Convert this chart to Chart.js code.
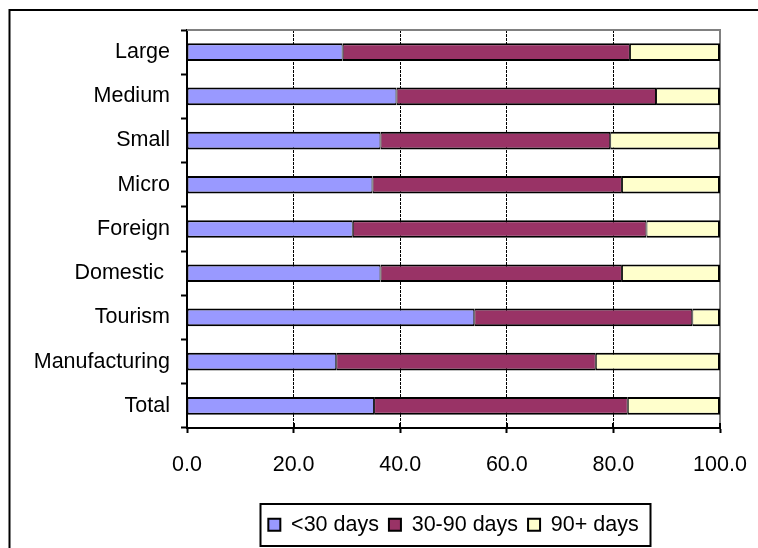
<!DOCTYPE html>
<html>
<head>
<meta charset="utf-8">
<title>Payment periods by firm type</title>
<script src="https://cdn.jsdelivr.net/npm/chart.js@4/dist/chart.umd.min.js"></script>
<style>
  html, body { margin: 0; padding: 0; background: #fff; }
  canvas { display: block; }
</style>
</head>
<body>
<canvas id="chart" width="758" height="548"></canvas>
<script>
// Share of payments (%) by payment period, per firm group (top to bottom)
const categories = ['Large', 'Medium', 'Small', 'Micro', 'Foreign', 'Domestic ', 'Tourism', 'Manufacturing', 'Total'];
const under30 = [29.2, 39.3, 36.3, 34.8, 31.1, 36.3, 53.9, 28.0, 35.1];
const days30to90 = [53.9, 48.7, 43.1, 46.8, 55.1, 45.3, 40.9, 48.7, 47.6];
const over90 = [16.9, 12.0, 20.6, 18.4, 13.8, 18.4, 5.2, 23.3, 17.3];
const seriesNames = ['<30 days', '30-90 days', '90+ days'];
const xTicks = [0, 20, 40, 60, 80, 100];

const FONT = { family: '"Liberation Sans", Arial, sans-serif', size: 21.5 };
Chart.defaults.font.family = FONT.family;
Chart.defaults.font.size = FONT.size;
Chart.defaults.color = '#000';

// Page frame, grey plot edges, inner halves of the value-axis tick marks, legend border
const framePlugin = {
  id: 'framePlugin',
  beforeDraw(chart) {
    const { ctx, width, height } = chart;
    ctx.save();
    ctx.fillStyle = '#fff';
    ctx.fillRect(0, 0, width, height);
    ctx.strokeStyle = '#000';
    ctx.lineWidth = 2;
    ctx.strokeRect(9.5, 10, width + 40, height + 40);
    ctx.restore();
  },
  beforeDatasetsDraw(chart) {
    const { ctx, chartArea: a } = chart;
    ctx.save();
    ctx.strokeStyle = '#808080';
    ctx.lineWidth = 2;
    ctx.beginPath();
    ctx.moveTo(a.left, a.top);
    ctx.lineTo(a.right, a.top);
    ctx.lineTo(a.right, a.bottom);
    ctx.stroke();
    ctx.restore();
  },
  afterDraw(chart) {
    const { ctx, chartArea: a, scales: { x } } = chart;
    ctx.save();
    ctx.strokeStyle = '#000';
    ctx.lineWidth = 2;
    x.ticks.forEach(t => {
      const px = Math.round(x.getPixelForValue(t.value));
      ctx.beginPath();
      ctx.moveTo(px, a.bottom);
      ctx.lineTo(px, a.bottom - 5);
      ctx.stroke();
    });
    const boxes = chart.legend.legendHitBoxes;
    if (boxes && boxes.length) {
      const left = Math.min(...boxes.map(b => b.left)) - 8;
      const right = Math.max(...boxes.map(b => b.left + b.width)) + 12;
      const cy = boxes[0].top + boxes[0].height / 2;
      ctx.strokeRect(Math.round(left) + 0.5, Math.round(cy - 21), Math.round(right - left), 42);
    }
    ctx.restore();
  }
};

const barBorder = { top: 2, bottom: 2, left: 1, right: 1 };

new Chart(document.getElementById('chart'), {
  type: 'bar',
  data: {
    labels: categories,
    datasets: [
      { label: seriesNames[0], data: under30, backgroundColor: '#9999FF' },
      { label: seriesNames[1], data: days30to90, backgroundColor: '#993366' },
      { label: seriesNames[2], data: over90, backgroundColor: '#FFFFCC',
        borderWidth: { top: 2, bottom: 2, left: 1, right: 2 } }
    ].map(d => Object.assign({
      borderColor: '#000',
      borderWidth: barBorder,
      borderSkipped: false,
      barPercentage: 0.4,
      categoryPercentage: 1
    }, d))
  },
  options: {
    indexAxis: 'y',
    responsive: false,
    animation: false,
    layout: { padding: { top: 30, right: 38, bottom: 2.5, left: 0 } },
    scales: {
      x: {
        stacked: true,
        min: 0,
        max: 100,
        afterBuildTicks: s => { s.ticks = xTicks.map(v => ({ value: v })); },
        afterFit: s => { s.height = 76; s.paddingLeft = 0; s.paddingRight = 0; },
        ticks: {
          padding: 19,
          maxRotation: 0,
          callback: v => Number(v).toFixed(1),
          font: FONT
        },
        grid: {
          color: c => (c.tick && (c.tick.value === 0 || c.tick.value === 100)) ? 'rgba(0,0,0,0)' : '#000',
          lineWidth: 1,
          tickColor: '#000',
          tickWidth: 2,
          tickLength: 5,
          tickBorderDash: []
        },
        border: { display: true, color: '#000', width: 2, dash: [3, 1] }
      },
      y: {
        stacked: true,
        afterFit: s => { s.width = 187; s.paddingTop = 0; s.paddingBottom = 0; },
        ticks: { padding: 11, font: FONT },
        grid: {
          drawOnChartArea: false,
          offset: true,
          tickColor: '#000',
          tickWidth: 2,
          tickLength: 6
        },
        border: { display: true, color: '#000', width: 2 }
      }
    },
    plugins: {
      tooltip: { enabled: false },
      legend: {
        position: 'bottom',
        fullSize: false,
        labels: {
          boxWidth: 12,
          boxHeight: 12,
          padding: 10,
          color: '#000',
          font: FONT,
          generateLabels: chart =>
            Chart.defaults.plugins.legend.labels.generateLabels(chart)
              .map(item => Object.assign(item, { lineWidth: 2, strokeStyle: '#000' }))
        }
      }
    }
  },
  plugins: [framePlugin]
});
</script>
</body>
</html>
